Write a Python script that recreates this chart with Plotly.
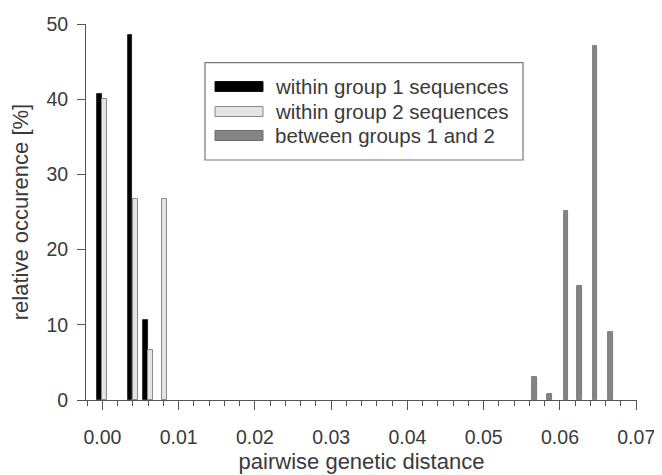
import plotly.graph_objects as go

# ---- data ----
g1_x = [-0.00043, 0.0036, 0.00567]
g1_y = [40.7, 48.6, 10.7]

g2_x = [0.00026, 0.0043, 0.00633, 0.00816]
g2_y = [40.0, 26.7, 6.7, 26.7]

bt_x = [0.0567, 0.0586, 0.0608, 0.0626, 0.0646, 0.0666]
bt_y = [3.1, 0.8, 25.1, 15.2, 47.1, 9.0]

series_names = ["within group 1 sequences",
                "within group 2 sequences",
                "between groups 1 and 2"]

x_ticks = [0.00, 0.01, 0.02, 0.03, 0.04, 0.05, 0.06, 0.07]
x_tick_labels = ["0.00", "0.01", "0.02", "0.03", "0.04", "0.05", "0.06", "0.07"]
y_ticks = [0, 10, 20, 30, 40, 50]

# ---- layout constants (page body has an 8px margin) ----
OFF = 8
W, H = 662 - OFF, 475 - OFF
ML, MR, MT, MB = 86 - OFF, 25, 24 - OFF, 75
PW, PH = W - ML - MR, H - MT - MB
FONT = "Liberation Sans, Arial, Helvetica, sans-serif"
TXT = "#3a3a3a"
AX = "#555555"

BAR_W = 0.00062
styles = [
    dict(color="#000000", line=dict(color="#111111", width=0.8)),
    dict(color="#e4e4e4", line=dict(color="#8a8a8a", width=1)),
    dict(color="#848484", line=dict(color="#6a6a6a", width=0.8)),
]

fig = go.Figure()
for xs, ys, name, st in zip([g1_x, g2_x, bt_x], [g1_y, g2_y, bt_y], series_names, styles):
    fig.add_trace(go.Bar(x=xs, y=ys, name=name, width=[BAR_W] * len(xs),
                         marker=st, showlegend=False))


# pixel positions below are page pixels of the reference image
def px(xp):
    return (xp - OFF - ML) / PW


def py(yp):
    return (MT + PH - (yp - OFF)) / PH


shapes = []
annotations = []
# legend box
shapes.append(dict(type="rect", xref="paper", yref="paper",
                   x0=px(205), x1=px(523), y0=py(160), y1=py(62.7),
                   line=dict(color="#777777", width=1.2), fillcolor="white", layer="above"))
row_y = [86.5, 111.5, 135.5]
for name, st, ry in zip(series_names, styles, row_y):
    shapes.append(dict(type="rect", xref="paper", yref="paper",
                       x0=px(215), x1=px(263), y0=py(ry + 5), y1=py(ry - 5),
                       fillcolor=st["color"], line=dict(color=st["line"]["color"], width=1),
                       layer="above"))
    annotations.append(dict(xref="paper", yref="paper", x=px(273), y=py(ry),
                            xanchor="left", yanchor="middle", showarrow=False,
                            text=name, font=dict(family=FONT, size=20.5, color=TXT)))

fig.update_layout(
    width=W, height=H,
    margin=dict(l=ML, r=MR, t=MT, b=MB, autoexpand=False),
    paper_bgcolor="white", plot_bgcolor="white",
    barmode="overlay", bargap=0,
    font=dict(family=FONT, color=TXT, size=18),
    shapes=shapes, annotations=annotations,
)
fig.update_xaxes(
    range=[-0.00216, 0.0701], tickvals=x_ticks, ticktext=x_tick_labels,
    showline=True, linecolor=AX, linewidth=1, showgrid=False, zeroline=False,
    ticks="outside", ticklen=9, tickcolor=AX, tickwidth=1,
    minor=dict(dtick=0.002, tick0=0, ticks="outside", ticklen=5, tickcolor=AX, showgrid=False),
    tickfont=dict(size=19.5, color=TXT), ticklabelstandoff=11,
    title=dict(text="pairwise genetic distance", font=dict(size=22, color=TXT), standoff=6),
)
fig.update_yaxes(
    range=[0, 50], tickvals=y_ticks,
    showline=True, linecolor=AX, linewidth=1, showgrid=False, zeroline=False,
    ticks="outside", ticklen=8, tickcolor=AX, tickwidth=1,
    tickfont=dict(size=19.5, color=TXT), ticklabelstandoff=5,
    title=dict(text="relative occurence [%]", font=dict(size=22, color=TXT), standoff=12),
)

fig.write_html("out.html")
